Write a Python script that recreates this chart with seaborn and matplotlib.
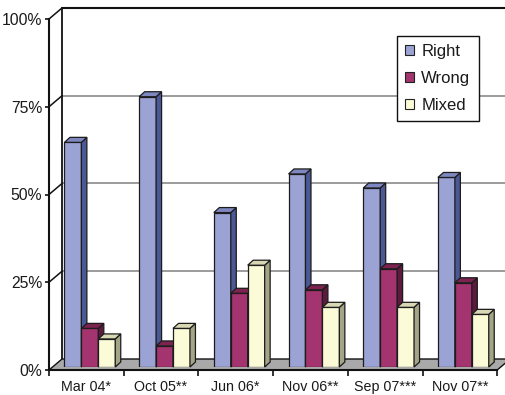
import matplotlib
matplotlib.use("Agg")
import matplotlib.pyplot as plt
from matplotlib.patches import Polygon, Patch
import seaborn as sns
import pandas as pd

periods = ["Mar 04*", "Oct 05**", "Jun 06*", "Nov 06**", "Sep 07***", "Nov 07**"]
responses = ["Right", "Wrong", "Mixed"]
right = [64, 77, 44, 55, 51, 54]
wrong = [11, 6, 21, 22, 28, 24]
mixed = [8, 11, 29, 17, 17, 15]
y_ticks = [0, 25, 50, 75, 100]
y_tick_labels = ["0%", "25%", "50%", "75%", "100%"]

face = {"Right": "#9ba2d4", "Wrong": "#a3346f", "Mixed": "#fcfbd8"}
side = {"Right": "#4b5896", "Wrong": "#5c1a3e", "Mixed": "#a4a486"}
top = {"Right": "#7e87c0", "Wrong": "#7c234f", "Mixed": "#d9d8b4"}

df = pd.DataFrame({
    "period": periods * 3,
    "response": [r for r in responses for _ in periods],
    "value": right + wrong + mixed,
})

sns.set_theme(style="white")
plt.rcParams["font.family"] = ["Liberation Sans", "DejaVu Sans"]

W, H = 506, 395
STEP, UNIT = 74.7, 3.51          # pixels per category / per percent
fig = plt.figure(figsize=(W / 100, H / 100), dpi=100)
fig.patch.set_facecolor("white")

# plane through the bar fronts
ax = fig.add_axes([52.5 / W, (H - 367) / H, 6 * STEP / W, 100 * UNIT / H])
ax.patch.set_visible(False)

# offsets (data units) of the front edge, back wall and bar depth
fx, fy = -3.5 / STEP, -3 / UNIT
bx, by = 9.5 / STEP, 8 / UNIT
dx, dy = 5.5 / STEP, 5 / UNIT
xl, xr = -0.5, 5.5

sns.barplot(data=df, x="period", y="value", hue="response", order=periods,
            hue_order=responses, palette=face, saturation=1, width=0.68,
            edgecolor="#1c1c1c", linewidth=0.9, legend=False, ax=ax)
ax.set_xlim(xl, xr)
ax.set_ylim(0, 100)
ax.set_axis_off()

# back wall, gridlines, side wall and floor
ax.add_patch(Polygon([(xl + bx, by), (xr + 1, by), (xr + 1, 100 + by), (xl + bx, 100 + by)],
                     closed=True, facecolor="white", edgecolor="none", zorder=0.1, clip_on=False))
for t in y_ticks[1:-1]:
    ax.plot([xl + bx, xr + 1], [t + by] * 2, color="#808080", lw=1.1, zorder=0.5, clip_on=False)
ax.plot([xl + bx, xr + 1], [100 + by] * 2, color="#111111", lw=1.5, zorder=0.6, clip_on=False)
ax.plot([xl + bx] * 2, [by, 100 + by], color="#111111", lw=1.3, zorder=0.6, clip_on=False)
for t in y_ticks[1:]:
    ax.plot([xl + fx, xl + bx], [t + fy, t + by], color="#111111", lw=1.1, zorder=0.6, clip_on=False)
ax.add_patch(Polygon([(xl + fx, fy), (xr + fx, fy), (xr + bx, by), (xl + bx, by)], closed=True,
                     facecolor="#a9a9a9", edgecolor="#111111", lw=1.0, zorder=1, clip_on=False))

# side and top faces of each bar
for resp, cont in zip(responses, ax.containers):
    for bar in cont:
        x0, h, w = bar.get_x(), bar.get_height(), bar.get_width()
        x1 = x0 + w
        z = 3 + x0 * 0.1
        bar.set_zorder(z)
        ax.add_patch(Polygon([(x1, 0), (x1 + dx, dy), (x1 + dx, h + dy), (x1, h)], closed=True,
                             facecolor=side[resp], edgecolor="#1c1c1c", lw=0.9,
                             zorder=z + 0.001, clip_on=False))
        ax.add_patch(Polygon([(x0, h), (x1, h), (x1 + dx, h + dy), (x0 + dx, h + dy)], closed=True,
                             facecolor=top[resp], edgecolor="#1c1c1c", lw=0.9,
                             zorder=z + 0.002, clip_on=False))

handles = [Patch(facecolor=face[r], edgecolor="#222222", lw=0.8) for r in responses]
leg = ax.legend(handles, responses, loc="upper left", bbox_to_anchor=(397 / W, 1 - 36 / H),
                bbox_transform=fig.transFigure, borderaxespad=0, frameon=True, fancybox=False,
                fontsize=12, handlelength=0.55, handleheight=0.55, handletextpad=0.4,
                labelspacing=0.7, borderpad=0.5)
leg.get_frame().set_edgecolor("#111111")
leg.get_frame().set_linewidth(1.0)
leg.get_frame().set_facecolor("white")
leg.get_frame().set_alpha(1)
leg.set_zorder(20)
for t in leg.get_texts():
    t.set_color("#1a1a1a")

# front axis plane with the value and category ticks
front = fig.add_axes([49 / W, (H - 370) / H, 6 * STEP / W, 100 * UNIT / H])
front.patch.set_visible(False)
front.set_xlim(xl, xr)
front.set_ylim(0, 100)
for s in ("top", "right"):
    front.spines[s].set_visible(False)
for s in ("left", "bottom"):
    front.spines[s].set_color("#111111")
    front.spines[s].set_linewidth(1.5)
front.set_yticks(y_ticks, y_tick_labels)
front.set_xticks([i - 0.5 for i in range(len(periods) + 1)], [""] * (len(periods) + 1))
front.set_xticks(range(len(periods)), periods, minor=True)
front.tick_params(axis="y", direction="out", length=3, width=1.2, color="#111111",
                  pad=2, labelsize=11.3, labelcolor="#1a1a1a", left=True)
front.tick_params(axis="x", which="major", direction="out", length=4.5, width=1.2,
                  color="#111111", bottom=True)
front.tick_params(axis="x", which="minor", length=0, pad=7.5, labelsize=10.3,
                  labelcolor="#1a1a1a", bottom=True)

fig.savefig("out.png", dpi=100, facecolor="white")
